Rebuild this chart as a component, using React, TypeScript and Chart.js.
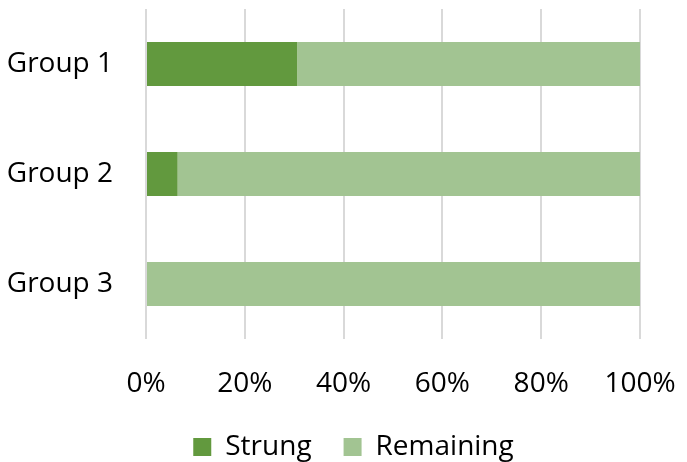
import React, { useEffect, useRef } from "react";
import { Chart, registerables } from "chart.js";

Chart.register(...registerables);

const categories = ["Group 1", "Group 2", "Group 3"];
const strung = [30.6, 6.4, 0];
const remaining = [69.4, 93.6, 100];
const xTicks = [0, 20, 40, 60, 80, 100];

const legendShift = {
  id: "legendShift",
  afterLayout(chart: any) {
    const lg = chart.legend;
    if (lg) {
      lg.left += 33.5;
      lg.right += 33.5;
    }
  },
};

export default function App() {
  const ref = useRef<HTMLCanvasElement | null>(null);
  useEffect(() => {
    if (!ref.current) return;
    const font = { family: "'Open Sans', 'Noto Sans', sans-serif", size: 28 };
    const chart = new Chart(ref.current, {
      type: "bar",
      data: {
        labels: categories,
        datasets: [
          { label: "Strung", data: strung, backgroundColor: "#62993e", barPercentage: 0.4, categoryPercentage: 1 },
          { label: "Remaining", data: remaining, backgroundColor: "#a2c492", barPercentage: 0.4, categoryPercentage: 1 },
        ],
      },
      options: {
        indexAxis: "y",
        animation: false,
        responsive: false,
        devicePixelRatio: 1,
        layout: { padding: { top: 9, right: 47, left: 0, bottom: -9 } },
        scales: {
          x: {
            stacked: true,
            min: 0,
            max: 100,
            afterBuildTicks: (axis: any) => {
              axis.ticks = xTicks.map((v) => ({ value: v }));
            },
            afterFit: (axis: any) => {
              axis.height = 62;
              axis.paddingLeft = 0;
              axis.paddingRight = 0;
            },
            ticks: { font, color: "#000", padding: 28, maxRotation: 0, callback: (v: any) => v + "%" },
            grid: { color: "#d9d9d9", lineWidth: 2, drawTicks: false },
            border: { display: false },
          },
          y: {
            stacked: true,
            afterFit: (axis: any) => {
              axis.width = 146;
              axis.paddingTop = 0;
              axis.paddingBottom = 0;
            },
            ticks: { font, color: "#000", padding: 33 },
            grid: { display: false, drawTicks: false },
            border: { display: false },
          },
        },
        plugins: {
          legend: {
            position: "bottom",
            labels: { font, color: "#000", boxWidth: 18, boxHeight: 18, padding: 32 },
          },
          tooltip: { enabled: false },
        },
      },
      plugins: [legendShift],
    });
    return () => chart.destroy();
  }, []);
  return (
    <div style={{ position: "fixed", left: 0, top: 0, width: 687, height: 462, background: "#fff" }}>
      <canvas ref={ref} width={687} height={462} />
    </div>
  );
}
